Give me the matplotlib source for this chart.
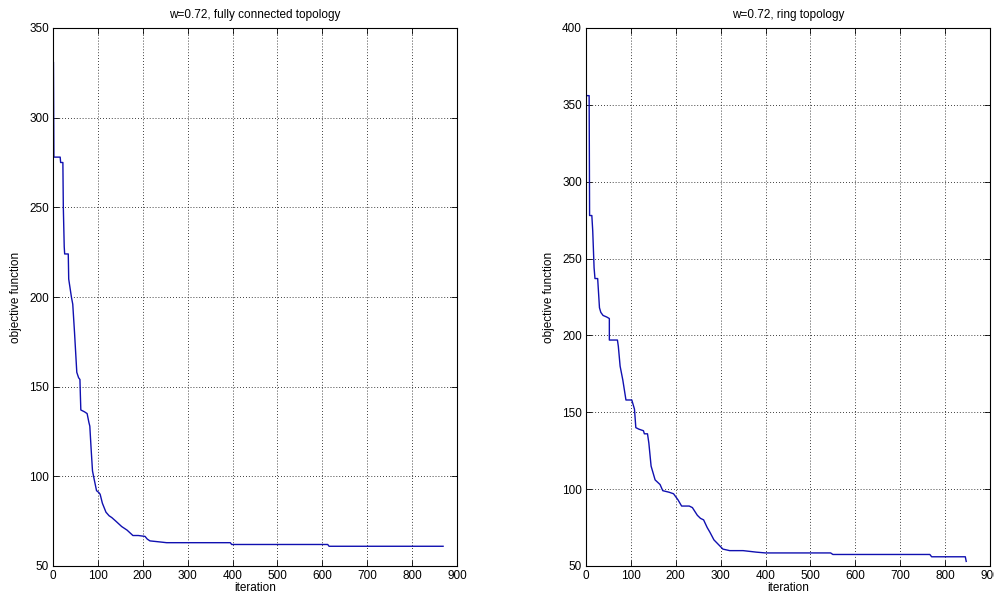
"""Two PSO convergence curves: fully connected vs ring topology (w=0.72)."""

import matplotlib
matplotlib.use("Agg")
import matplotlib.pyplot as plt

# fully connected topology: iteration vs objective function
full_iter = [0, 0, 1, 2, 16, 17, 22, 23, 25, 26, 34, 35, 38, 41, 44, 48, 53,
             57, 60, 61, 62, 70, 76, 80, 82, 85, 88, 92, 97, 102, 105, 110,
             118, 125, 131, 140, 153, 165, 178, 190, 205, 210, 216, 235, 253,
             300, 395, 398, 612, 615, 869]
full_obj = [349, 331, 331, 278, 278, 275, 275, 250, 228, 224, 224, 210, 205,
            200, 196, 180, 158, 155, 154, 145, 137, 136, 135, 130, 128, 115,
            103, 98, 92, 91, 90, 85, 80, 78, 77, 75, 72, 70, 67, 67, 66.5, 65,
            64, 63.5, 63, 63, 63, 62, 62, 61, 61]

# ring topology
ring_iter = [1, 7, 8, 13, 15, 18, 20, 26, 30, 33, 38, 46, 52, 52, 70, 72, 76,
             82, 89, 102, 108, 111, 118, 128, 130, 137, 140, 145, 154, 165,
             171, 185, 195, 205, 213, 230, 237, 248, 255, 262, 270, 276, 285,
             295, 305, 320, 350, 380, 400, 545, 550, 766, 770, 845, 847]
ring_obj = [356, 356, 278, 278, 268, 244, 237, 237, 218, 215, 213, 212, 211,
            197, 197, 193, 180, 171, 158, 158, 152, 140, 139, 138, 136, 136,
            130, 115, 106, 103, 99, 98, 97, 93, 89, 89, 88, 83, 81, 80, 75, 72,
            67, 64, 61, 60, 60, 59, 58.5, 58.5, 57.5, 57.5, 56, 56, 53]

plt.rcParams["font.family"] = ["Liberation Sans", "DejaVu Sans"]
plt.rcParams["font.size"] = 8.5

W, H = 995, 601
fig = plt.figure(figsize=(W / 100, H / 100), dpi=100)

panels = [
    (53, full_iter, full_obj, (50, 350), "w=0.72, fully connected topology"),
    (586, ring_iter, ring_obj, (50, 400), "w=0.72, ring topology"),
]

for left_px, xs, ys, ylim, title in panels:
    ax = fig.add_axes([left_px / W, (H - 566) / H, 404 / W, 538 / H])
    ax.plot(xs, ys, color="#1010b0", lw=1.0)
    ax.set_xlim(0, 900)
    ax.set_ylim(*ylim)
    ax.set_xticks(range(0, 901, 100))
    ax.set_yticks(range(ylim[0], ylim[1] + 1, 50))
    ax.grid(True, color="black", linestyle=(0, (1, 2.5)), linewidth=0.6)
    ax.tick_params(direction="in", top=True, right=True, length=4,
                   width=0.6, labelsize=8.5, pad=3)
    for s in ax.spines.values():
        s.set_linewidth(0.8)
    ax.set_title(title, fontsize=8.5, pad=7)
    ax.set_xlabel("iteration", fontsize=8.5, labelpad=0)
    ax.set_ylabel("objective function", fontsize=8.5, labelpad=5)

fig.savefig("out.png", dpi=100)
